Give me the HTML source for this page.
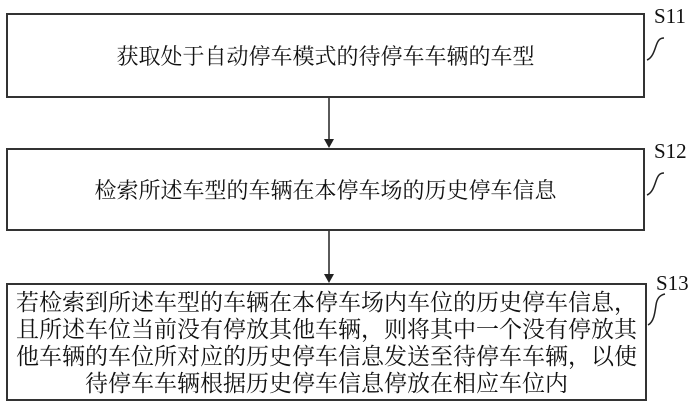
<!DOCTYPE html>
<html><head><meta charset="utf-8"><style>
body{margin:0;width:700px;height:408px;background:#fff;position:relative;overflow:hidden;font-family:"Liberation Serif","Noto Serif CJK SC","Noto Sans CJK SC",serif;color:#111}
.b{position:absolute;border:2px solid #333;box-sizing:border-box;display:flex;align-items:center;justify-content:center;text-align:center}
.t{font-size:22px}
.l{position:absolute;font-size:21px}
</style></head><body>
<div class="b t" style="left:6px;top:13px;width:639px;height:85px">获取处于自动停车模式的待停车车辆的车型</div>
<div class="b t" style="left:6px;top:148px;width:639px;height:83px">检索所述车型的车辆在本停车场的历史停车信息</div>
<div class="b" style="left:6px;top:283px;width:641px;height:118px;font-size:23px;line-height:27px;padding-top:2px;white-space:nowrap">若检索到所述车型的车辆在本停车场内车位的历史停车信息，<br>且所述车位当前没有停放其他车辆，则将其中一个没有停放其<br>他车辆的车位所对应的历史停车信息发送至待停车车辆，以使<br>待停车车辆根据历史停车信息停放在相应车位内</div>
<div class="l" style="left:654px;top:4px">S11</div>
<div class="l" style="left:654px;top:139px">S12</div>
<div class="l" style="left:656px;top:271px">S13</div>
<svg width="700" height="408" style="position:absolute;left:0;top:0">
<g stroke="#222" stroke-width="1.5" fill="none">
<line x1="329" y1="98" x2="329" y2="140"/>
<line x1="329" y1="231" x2="329" y2="275"/>
<path d="M647 60 C652 58 654 52 656 46 C658 40 660 38 664 38"/>
<path d="M647 195 C652 193 654 187 656 181 C658 175 660 173 664 173"/>
<path d="M648 325 C654 322 655 312 656 305 C657 298 660 295 665 294"/>
</g>
<polygon points="324,139 334,139 329,148" fill="#222"/>
<polygon points="324,274 334,274 329,283" fill="#222"/>
</svg>
</body></html>
